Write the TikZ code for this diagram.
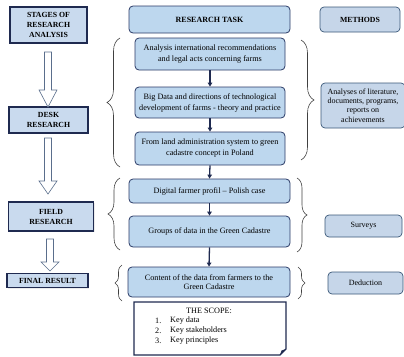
\documentclass[tikz,border=0pt]{standalone}
\usepackage{fontspec}
\setmainfont{Liberation Serif}
\usetikzlibrary{shadows,arrows.meta,decorations.pathreplacing}
\definecolor{navy}{HTML}{1F2A50}
\definecolor{midfill}{HTML}{BDD7EE}
\definecolor{midline}{HTML}{2A3A66}
\definecolor{rfill}{HTML}{C6D6E9}
\definecolor{rline}{HTML}{3B5878}
\definecolor{lfill}{HTML}{C9DAEE}
\definecolor{arrline}{HTML}{5A6E8C}
\definecolor{bracecol}{HTML}{404040}
\newcommand{\hollowarrow}[4]{%
  \draw[hollow] (#1-3.5,#2) -- (#1+3.5,#2) -- (#1+3.5,#3) -- (#1+9,#3) -- (#1,#4) -- (#1-9,#3) -- (#1-3.5,#3) -- cycle;}
\begin{document}
\begin{tikzpicture}[x=1pt,y=-1pt,
  txt/.style={font=\fontsize{8.2}{11}\selectfont, align=center, inner sep=0pt},
  stagebox/.style={txt, font=\fontsize{7.8}{10}\selectfont\bfseries, draw=navy, line width=1.4pt, fill=lfill,
     drop shadow={shadow xshift=1.2pt, shadow yshift=-1.2pt, fill=black!15, opacity=0.5}},
  taskbox/.style={txt, draw=midline, line width=0.8pt, fill=midfill, rounded corners=4pt},
  methbox/.style={txt, font=\fontsize{8}{9.2}\selectfont, draw=rline, line width=0.7pt, fill=rfill, rounded corners=4pt},
  hollow/.style={draw=arrline, line width=0.6pt, fill=white},
  flow/.style={draw=navy, line width=1.3pt, -{Triangle[length=4pt,width=4.5pt]}},
  bracel/.style={draw=bracecol, line width=0.6pt, decorate, decoration={brace, amplitude=#1}},
  bracel/.default=13
]
\useasboundingbox (0,0) rectangle (404,356);

% left column
\node[stagebox, minimum width=77pt, minimum height=36pt] (stages) at (48.5,25) {STAGES OF\\RESEARCH\\ANALYSIS};
\node[stagebox, minimum width=79pt, minimum height=26pt] (desk) at (48.5,120) {DESK\\RESEARCH};
\node[stagebox, minimum width=85pt, minimum height=29pt] (field) at (51,216.5) {FIELD\\RESEARCH};
\node[stagebox, minimum width=81pt, minimum height=14pt] (final) at (47.5,280.5) {FINAL RESULT};

\hollowarrow{48}{52}{90}{107}
\hollowarrow{48}{138}{181}{194}
\hollowarrow{50}{239}{262}{271}

% middle column
\node[taskbox, font=\fontsize{8}{10}\selectfont\bfseries, minimum width=161pt, minimum height=27pt] (task) at (209.5,19.5) {RESEARCH TASK};
\node[taskbox, minimum width=150pt, minimum height=32pt] (b1) at (210,54) {Analysis international recommendations\\and legal acts concerning farms};
\node[taskbox, minimum width=150pt, minimum height=31pt] (b2) at (210,102.5) {Big Data and directions of technological\\development of farms - theory and practice};
\node[taskbox, minimum width=150pt, minimum height=33pt] (b3) at (210,148.5) {From land administration system to green\\cadastre concept in Poland};
\node[taskbox, minimum width=161pt, minimum height=24pt] (b4) at (209.5,191) {Digital farmer profil -- Polish case};
\node[taskbox, minimum width=161pt, minimum height=31pt] (b5) at (209.5,231.5) {Groups of data in the Green Cadastre};
\node[taskbox, minimum width=162pt, minimum height=30pt, font=\fontsize{8.2}{9.5}\selectfont] (b6) at (209,282) {Content of the data from farmers to the\\Green Cadastre};

\draw[flow] (b1.south) -- (b2.north);
\draw[flow] (b2.south) -- (b3.north);
\draw[flow] (b3.south) -- (b4.north);
\draw[flow] (b4.south) -- (b5.north);
\draw[flow] (b5.south) -- (b6.north);

% scope box
\draw[draw=navy, line width=1.2pt, fill=white] (134,302) -- (286,302) -- (286,349) -- (280,355) -- (134,355) -- cycle;
\fill[navy] (280,355) -- (281.5,350.5) -- (286,349) -- cycle;
\node[txt] (scopetitle) at (209,311) {THE SCOPE:};
\node[txt, anchor=west] (n1) at (155,320.5) {1.};
\node[txt, anchor=west] (t1) at (170,320.5) {Key data};
\node[txt, anchor=west] (n2) at (155,330.5) {2.};
\node[txt, anchor=west] (t2) at (170,330.5) {Key stakeholders};
\node[txt, anchor=west] (n3) at (155,340.5) {3.};
\node[txt, anchor=west] (t3) at (170,340.5) {Key principles};

% right column
\node[methbox, font=\fontsize{7.8}{9}\selectfont\bfseries, minimum width=80pt, minimum height=25pt] (methods) at (360,19.5) {METHODS};
\node[methbox, minimum width=84pt, minimum height=45pt] (analyses) at (363,105.5) {Analyses of literature,\\documents, programs,\\reports on\\achievements};
\node[methbox, minimum width=77pt, minimum height=22pt] (surveys) at (363.5,226) {Surveys};
\node[methbox, minimum width=75pt, minimum height=22pt] (deduction) at (365.5,283) {Deduction};

% braces
\draw[bracel=13] (120,167) -- (120,38);
\draw[bracel=13] (301,40) -- (301,160);
\draw[bracel=12] (120,250) -- (120,178);
\draw[bracel=10] (297,178) -- (297,252);
\draw[bracel=7] (122,301) -- (122,265);
\draw[bracel=7] (298,267) -- (298,299);
\end{tikzpicture}
\end{document}
